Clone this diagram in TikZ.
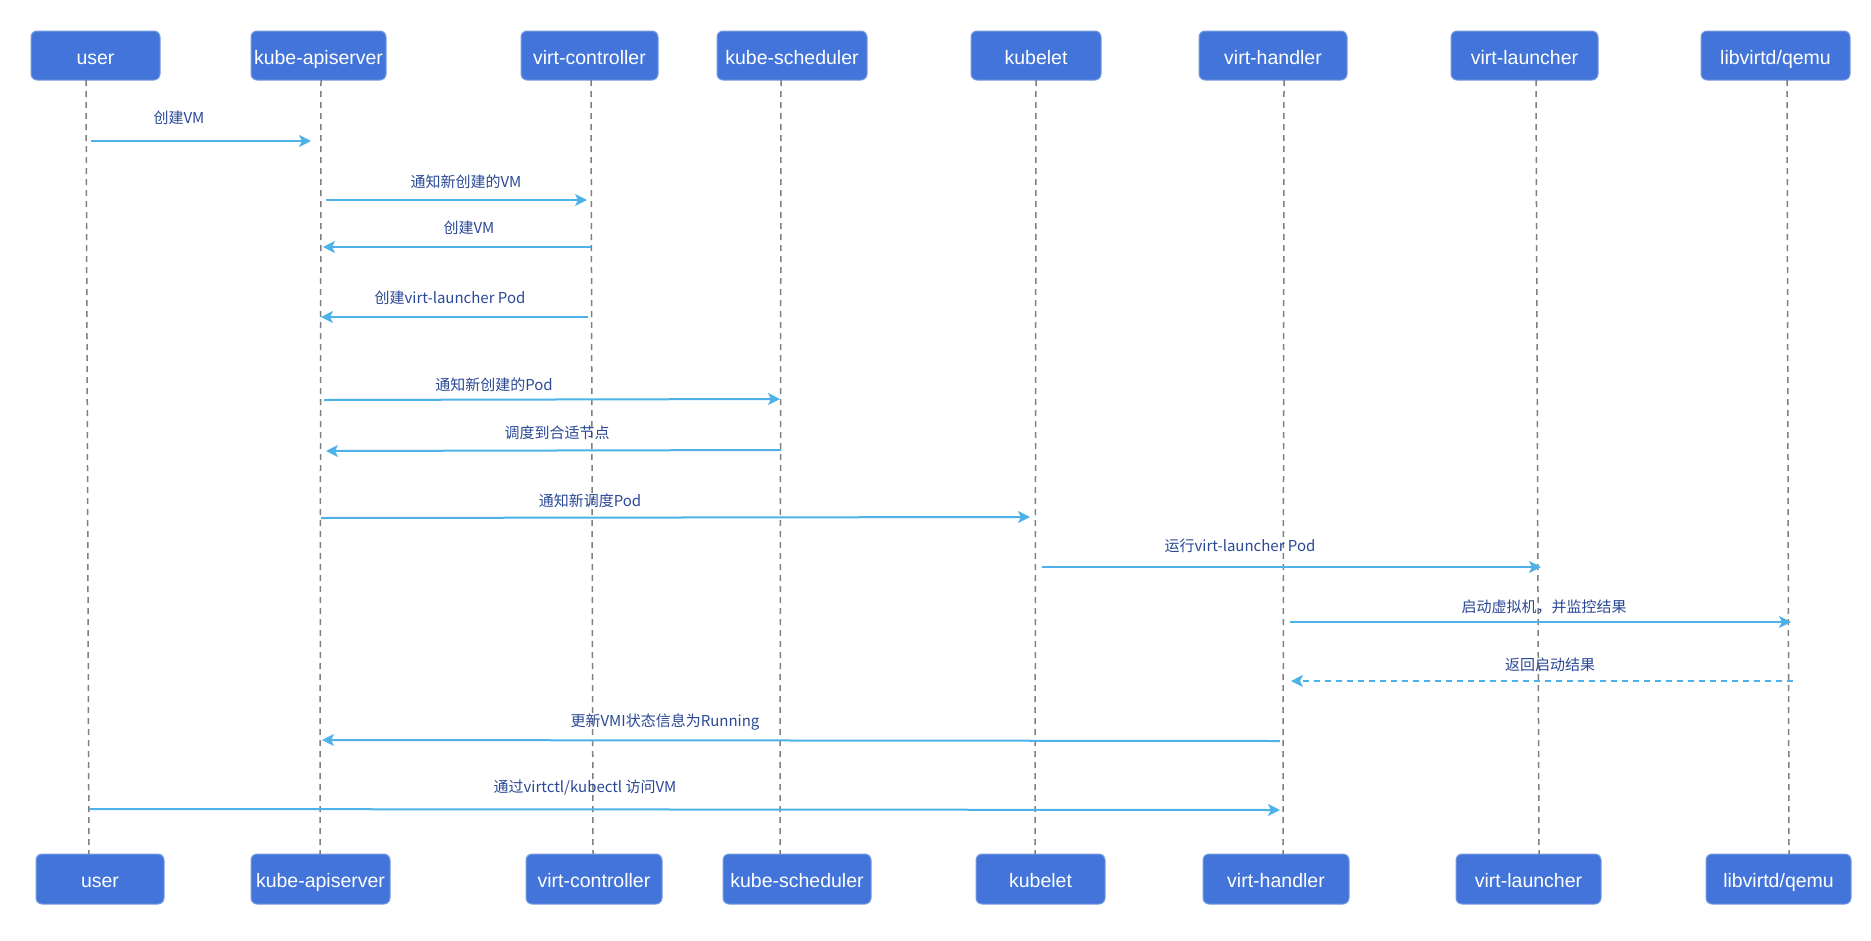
\documentclass[tikz,border=0pt]{standalone}
\usepackage{fontspec}
\setmainfont{Liberation Sans}
\newfontfamily\cjk{Noto Sans CJK SC}
\usetikzlibrary{arrows.meta}
\definecolor{boxblue}{RGB}{66,116,217}
\definecolor{boxedge}{RGB}{120,155,225}
\definecolor{msgblue}{RGB}{77,178,232}
\definecolor{lbl}{RGB}{42,72,150}
\definecolor{lifegray}{RGB}{128,128,128}
\tikzset{
  actor/.style={draw=boxedge, line width=1pt, fill=boxblue, rounded corners=6pt,
    minimum height=49pt, inner sep=0pt, text=white, text height=19pt, text depth=2pt,
    font=\fontsize{19.5}{22}\selectfont},
  life/.style={draw=lifegray, line width=1.5pt, dash pattern=on 6pt off 5pt},
  msg/.style={draw=msgblue, line width=2pt, -{Stealth[length=12pt,width=12pt,inset=3pt]}},
  reply/.style={msg, dash pattern=on 6pt off 5pt},
  msglabel/.style={text=lbl, font=\cjk\fontsize{15}{18}\selectfont, inner sep=0pt}
}
\begin{document}
\begin{tikzpicture}[x=1pt,y=-1pt]
\useasboundingbox (0,0) rectangle (1871,940);
% top actors
\node[actor, minimum width=129pt] (tuser) at (95.5,55.5) {user};
\node[actor, minimum width=135pt] (tapi) at (318.5,55.5) {kube-apiserver};
\node[actor, minimum width=137pt] (tvc) at (589.5,55.5) {virt-controller};
\node[actor, minimum width=150pt] (tks) at (792,55.5) {kube-scheduler};
\node[actor, minimum width=130pt] (tkl) at (1036,55.5) {kubelet};
\node[actor, minimum width=148pt] (tvh) at (1273,55.5) {virt-handler};
\node[actor, minimum width=147pt] (tvl) at (1524.5,55.5) {virt-launcher};
\node[actor, minimum width=149pt] (tlq) at (1775.5,55.5) {libvirtd/qemu};
% bottom actors
\node[actor, minimum width=128pt, minimum height=50pt] (buser) at (100,879) {user};
\node[actor, minimum width=139pt, minimum height=50pt] (bapi) at (320.5,879) {kube-apiserver};
\node[actor, minimum width=136pt, minimum height=50pt] (bvc) at (594,879) {virt-controller};
\node[actor, minimum width=148pt, minimum height=50pt] (bks) at (797,879) {kube-scheduler};
\node[actor, minimum width=129pt, minimum height=50pt] (bkl) at (1040.5,879) {kubelet};
\node[actor, minimum width=146pt, minimum height=50pt] (bvh) at (1276,879) {virt-handler};
\node[actor, minimum width=145pt, minimum height=50pt] (bvl) at (1528.5,879) {virt-launcher};
\node[actor, minimum width=145pt, minimum height=50pt] (blq) at (1778.5,879) {libvirtd/qemu};
% lifelines
\coordinate (luser1) at (86,80);   \coordinate (luser2) at (89,854);
\coordinate (lapi1) at (321,80);   \coordinate (lapi2) at (320,854);
\coordinate (lvc1) at (591,80);    \coordinate (lvc2) at (593,854);
\coordinate (lks1) at (781,80);    \coordinate (lks2) at (780,854);
\coordinate (lkl1) at (1036,80);   \coordinate (lkl2) at (1035,854);
\coordinate (lvh1) at (1284,80);   \coordinate (lvh2) at (1283,854);
\coordinate (lvl1) at (1536,80);   \coordinate (lvl2) at (1539,854);
\coordinate (llq1) at (1787,80);   \coordinate (llq2) at (1789,854);
\foreach \l in {luser,lapi,lvc,lks,lkl,lvh,lvl,llq}{
  \draw[life] (\l1) -- (\l2);
}
% messages
\coordinate (m1a) at (91,141);    \coordinate (m1b) at (311,141);
\coordinate (m2a) at (326,200);   \coordinate (m2b) at (587,200);
\coordinate (m3a) at (591,247);   \coordinate (m3b) at (323,247);
\coordinate (m4a) at (588,317);   \coordinate (m4b) at (321,317);
\coordinate (m5a) at (324,400);   \coordinate (m5b) at (780,399);
\coordinate (m6a) at (781,450);   \coordinate (m6b) at (326,451);
\coordinate (m7a) at (321,518);   \coordinate (m7b) at (1030,517);
\coordinate (m8a) at (1042,567);  \coordinate (m8b) at (1541,567);
\coordinate (m9a) at (1290,622);  \coordinate (m9b) at (1791,622);
\coordinate (m10a) at (1793,681); \coordinate (m10b) at (1291,681);
\coordinate (m11a) at (1280,741); \coordinate (m11b) at (322,740);
\coordinate (m12a) at (89,809);   \coordinate (m12b) at (1280,810);
\draw[msg] (m1a) -- (m1b);
\draw[msg] (m2a) -- (m2b);
\draw[msg] (m3a) -- (m3b);
\draw[msg] (m4a) -- (m4b);
\draw[msg] (m5a) -- (m5b);
\draw[msg] (m6a) -- (m6b);
\draw[msg] (m7a) -- (m7b);
\draw[msg] (m8a) -- (m8b);
\draw[msg] (m9a) -- (m9b);
\draw[reply] (m10a) -- (m10b);
\draw[msg] (m11a) -- (m11b);
\draw[msg] (m12a) -- (m12b);
% labels
\node[msglabel] (t1) at (179,118) {创建VM};
\node[msglabel] (t2) at (466,182) {通知新创建的VM};
\node[msglabel] (t3) at (469,228) {创建VM};
\node[msglabel] (t4) at (450,298) {创建virt-launcher Pod};
\node[msglabel] (t5) at (494,385) {通知新创建的Pod};
\node[msglabel] (t6) at (557,433) {调度到合适节点};
\node[msglabel] (t7) at (590,501) {通知新调度Pod};
\node[msglabel] (t8) at (1240,546) {运行virt-launcher Pod};
\node[msglabel] (t9) at (1544,607) {启动虚拟机，并监控结果};
\node[msglabel] (t10) at (1550,665) {返回启动结果};
\node[msglabel] (t11) at (665,722) {更新VMI状态信息为Running};
\node[msglabel] (t12) at (585,788) {通过virtctl/kubectl 访问VM};
\end{tikzpicture}
\end{document}
